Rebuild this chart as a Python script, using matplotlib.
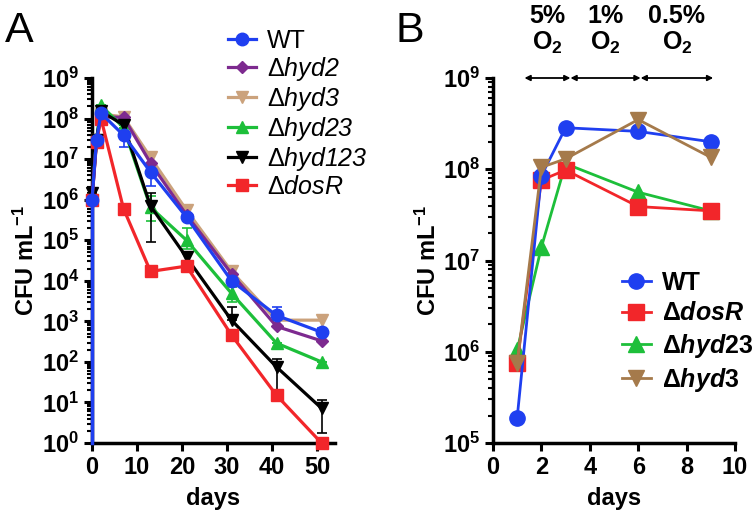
import numpy as np
import matplotlib
matplotlib.use("Agg")
import matplotlib.pyplot as plt
from matplotlib.ticker import LogLocator, FuncFormatter, NullFormatter
from matplotlib.transforms import offset_copy

plt.rcParams['font.family'] = ['Liberation Sans', 'DejaVu Sans']
plt.rcParams['mathtext.fontset'] = 'custom'
plt.rcParams['mathtext.rm'] = 'Liberation Sans'
plt.rcParams['mathtext.it'] = 'Liberation Sans:italic'
plt.rcParams['mathtext.sf'] = 'Liberation Sans:italic'
plt.rcParams['mathtext.bf'] = 'Liberation Sans:bold'
plt.rcParams['mathtext.bfit'] = 'Liberation Sans:bold:italic'

# ---------------- Panel A data ----------------
days_A = [0, 1, 2, 7, 13, 21, 31, 41, 51]
wt_A = [1.0e6, 2.9e7, 1.35e8, 3.9e7, 4.8e6, 3.7e5, 1.0e4, 1.4e3, 5.4e2]
wt_A_floor = 1.0  # WT day-0 drop to axis floor
hyd2_A = [1.0e6, 3.0e7, 1.1e8, 1.07e8, 8.0e6, 4.2e5, 1.5e4, 7.5e2, 3.3e2]
hyd3_A = [1.0e6, 3.0e7, 1.3e8, 1.1e8, 1.1e7, 5.5e5, 1.7e4, 1.07e3, 1.07e3]
hyd23_A = [1.2e6, 3.0e7, 2.1e8, 6.0e7, 6.5e5, 1.0e5, 4.9e3, 2.9e2, 1.0e2]
hyd123_A = [1.5e6, 3.0e7, 1.5e8, 7.0e7, 7.0e5, 3.8e4, 1.07e3, 75, 7.2]
dosR_A = [1.0e6, 2.6e7, 1.0e8, 6.0e5, 1.7e4, 2.3e4, 4.6e2, 15, 1.0]

# error bar bounds (low, high) per point
wt_A_lo = [1.0e6, 2.9e7, 1.35e8, 2.0e7, 2.2e6, 3.0e5, 8.0e3, 1.2e3, 4.5e2]
wt_A_hi = [1.0e6, 2.9e7, 1.35e8, 4.5e7, 6.0e6, 4.2e5, 1.2e4, 2.2e3, 6.8e2]
hyd23_A_lo = [1.2e6, 3.0e7, 2.1e8, 6.0e7, 3.0e5, 6.0e4, 3.0e3, 2.9e2, 1.0e2]
hyd23_A_hi = [1.2e6, 3.0e7, 2.1e8, 6.0e7, 1.2e6, 2.0e5, 7.0e3, 2.9e2, 1.0e2]
hyd123_A_lo = [1.5e6, 3.0e7, 1.5e8, 7.0e7, 9.0e4, 2.5e4, 1.07e3, 20, 1.8]
hyd123_A_hi = [1.5e6, 3.0e7, 1.5e8, 7.0e7, 1.5e6, 5.0e4, 2.2e3, 120, 11.5]

# ---------------- Panel B data ----------------
days_B = [1, 2, 3, 6, 9]
wt_B = [1.9e5, 8.5e7, 2.85e8, 2.6e8, 2.0e8]
dosR_B = [7.5e5, 7.6e7, 9.8e7, 3.9e7, 3.5e7]
hyd23_B = [1.05e6, 1.4e7, 1.15e8, 5.6e7, 3.5e7]
hyd3_B = [7.5e5, 1.05e8, 1.3e8, 3.5e8, 1.35e8]

o2_labels = ["5%\nO$_\\mathbf{2}$", "1%\nO$_\\mathbf{2}$", "0.5%\nO$_\\mathbf{2}$"]
o2_bounds = [1.3, 3.2, 6.1, 9.1]

c_blue = '#1f3ff0'
c_red = '#f2262a'
c_green = '#1dbf3a'
c_purple = '#7d2a8f'
c_tan = '#cba27c'
c_black = '#000000'
c_brown = '#a57a4b'

W, H = 752, 518
fig = plt.figure(figsize=(W / 100, H / 100), dpi=100)

axA = fig.add_axes([92 / W, 1 - 443 / H, (335 - 92) / W, (443 - 78) / H])
axB = fig.add_axes([493 / W, 1 - 443 / H, (735 - 493) / W, (443 - 78) / H])


def err(vals, lo, hi):
    v = np.array(vals, float)
    return [v - np.array(lo, float), np.array(hi, float) - v]


lwA = 2.3
msA = 8
series_A = [
    (hyd3_A, c_tan, 'v', None, r'$\Delta\mathsf{hyd3}$'),
    (hyd2_A, c_purple, 'D', None, r'$\Delta\mathsf{hyd2}$'),
    (hyd23_A, c_green, '^', err(hyd23_A, hyd23_A_lo, hyd23_A_hi), r'$\Delta\mathsf{hyd23}$'),
    (hyd123_A, c_black, 'v', err(hyd123_A, hyd123_A_lo, hyd123_A_hi), r'$\Delta\mathsf{hyd123}$'),
    (dosR_A, c_red, 's', None, r'$\Delta\mathsf{dosR}$'),
]
handles = {}
for vals, col, mk, ye, lab in series_A:
    ms = msA - 2 if mk == 'D' else msA
    if ye is not None:
        axA.errorbar(days_A, vals, yerr=ye, fmt='none', ecolor=col, elinewidth=1.2,
                     capsize=3.5, capthick=1.2, clip_on=False, zorder=2)
    h, = axA.plot(days_A, vals, color=col, marker=mk, ms=ms, lw=lwA, clip_on=False, zorder=3)
    handles[lab] = h
axA.errorbar(days_A, wt_A, yerr=err(wt_A, wt_A_lo, wt_A_hi), fmt='none', ecolor=c_blue,
             elinewidth=1.2, capsize=3.5, capthick=1.2, clip_on=False, zorder=2)
axA.plot([days_A[0], days_A[0]], [wt_A_floor, wt_A[0]], color=c_blue, lw=2.5, clip_on=False, zorder=4)
hwt, = axA.plot(days_A, wt_A, color=c_blue, marker='o', ms=msA + 1, lw=lwA, clip_on=False, zorder=4)
handles['WT'] = hwt

axA.set_yscale('log')
axA.set_ylim(1, 1e9)
axA.set_xlim(0, 54)
axA.set_xticks([0, 10, 20, 30, 40, 50])

order = ['WT', r'$\Delta\mathsf{hyd2}$', r'$\Delta\mathsf{hyd3}$', r'$\Delta\mathsf{hyd23}$',
         r'$\Delta\mathsf{hyd123}$', r'$\Delta\mathsf{dosR}$']
fig.legend([handles[k] for k in order], order, loc='upper left',
           bbox_to_anchor=(228 / W, 1 - 29 / H), frameon=False, fontsize=18,
           handlelength=1.1, handletextpad=0.45, labelspacing=0.08, borderaxespad=0,
           borderpad=0)

# ---------------- Panel B ----------------
lwB = 2.0
msB = 11
hb = {}
for vals, col, mk, lab in [
    (hyd23_B, c_green, '^', r'$\mathbf{\Delta}\mathbfit{hyd}\mathbf{23}$'),
    (dosR_B, c_red, 's', r'$\mathbf{\Delta}\mathbfit{dosR}$'),
    (wt_B, c_blue, 'o', 'WT'),
    (hyd3_B, c_brown, 'v', r'$\mathbf{\Delta}\mathbfit{hyd}\mathbf{3}$'),
]:
    h, = axB.plot(days_B, vals, color=col, marker=mk, ms=msB, lw=lwB, clip_on=False)
    hb[lab] = h
axB.set_yscale('log')
axB.set_ylim(1e5, 1e9)
axB.set_xlim(0, 10)
axB.set_xticks([0, 2, 4, 6, 8, 10])
orderB = ['WT', r'$\mathbf{\Delta}\mathbfit{dosR}$', r'$\mathbf{\Delta}\mathbfit{hyd}\mathbf{23}$',
          r'$\mathbf{\Delta}\mathbfit{hyd}\mathbf{3}$']
axB.legend([hb[k] for k in orderB], orderB, loc='upper left',
           bbox_to_anchor=(622 / W, 1 - 271 / H), bbox_transform=fig.transFigure,
           frameon=False, prop={'size': 18, 'weight': 'bold'},
           handlelength=1.15, handletextpad=0.45, labelspacing=0.25, borderaxespad=0,
           borderpad=0)

# oxygen arrows
txt_tr = offset_copy(axB.transData, fig=fig, x=0, y=22, units='dots')
for i in range(3):
    axB.annotate('', xy=(o2_bounds[i], 1e9), xytext=(o2_bounds[i + 1], 1e9),
                 arrowprops=dict(arrowstyle='<|-|>', color='black', lw=1.3,
                                 mutation_scale=8, shrinkA=0, shrinkB=0),
                 annotation_clip=False)
    xm = (o2_bounds[i] + o2_bounds[i + 1]) / 2
    axB.text(xm, 1e9, o2_labels[i], transform=txt_tr, ha='center', va='bottom',
             fontsize=18, fontweight='bold', linespacing=1.1)

# ---------------- common styling ----------------
fmt = FuncFormatter(lambda v, p: r'$\mathbf{10^{%d}}$' % int(round(np.log10(v))))
for ax in (axA, axB):
    for s in ('top', 'right'):
        ax.spines[s].set_visible(False)
    for s in ('left', 'bottom'):
        ax.spines[s].set_linewidth(2.5)
    ax.yaxis.set_major_locator(LogLocator(base=10, numticks=20))
    ax.yaxis.set_minor_locator(LogLocator(base=10, subs=np.arange(2, 10), numticks=20))
    ax.yaxis.set_major_formatter(fmt)
    ax.yaxis.set_minor_formatter(NullFormatter())
    ax.tick_params(axis='both', which='major', width=2.2, length=6, labelsize=17, pad=3)
    ax.tick_params(axis='y', which='minor', width=1.5, length=3.5)
    for lbl in ax.get_xticklabels():
        lbl.set_fontweight('bold')
    ax.set_xlabel('days', fontsize=17, fontweight='bold', labelpad=6)
    ax.set_ylabel(r'$\mathbf{CFU\ mL^{-1}}$', fontsize=17, labelpad=2)

fig.text(5 / W, 1 - 42 / H, 'A', fontsize=31)
fig.text(396 / W, 1 - 42 / H, 'B', fontsize=31)

fig.savefig('out.png', dpi=100)
